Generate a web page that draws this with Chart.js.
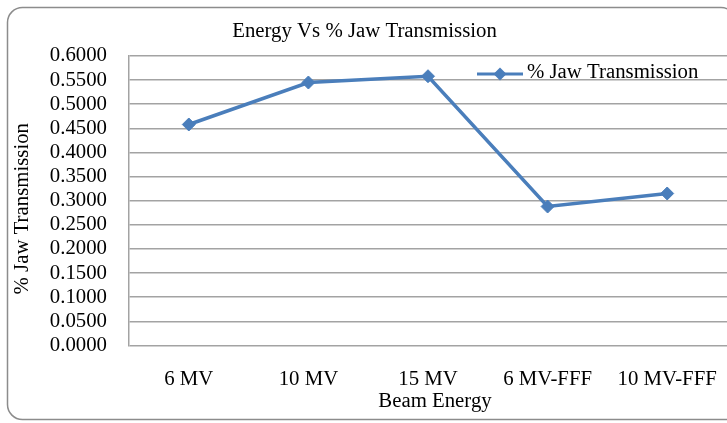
<!DOCTYPE html>
<html>
<head>
<meta charset="utf-8">
<script src="https://cdn.jsdelivr.net/npm/chart.js@4/dist/chart.umd.min.js"></script>
<style>
  html, body { margin: 0; padding: 0; background: #fff; overflow: hidden; }
  #wrap { position: relative; width: 727px; height: 423px; overflow: hidden; }
  canvas { display: block; }
</style>
</head>
<body>
<div id="wrap"><canvas id="c" width="727" height="423" style="width:727px;height:423px"></canvas></div>
<script>
// Beam energies and measured jaw transmission (%)
const categories = ['6 MV', '10 MV', '15 MV', '6 MV-FFF', '10 MV-FFF'];
const jawTransmission = [0.458, 0.545, 0.558, 0.288, 0.315];
const seriesLabel = '% Jaw Transmission';
const chartTitle = 'Energy Vs % Jaw Transmission';
const xAxisTitle = 'Beam Energy';
const yAxisTitle = '% Jaw Transmission';
const yMin = 0, yMax = 0.6, yStep = 0.05;

const FONT = 'Liberation Serif, Times New Roman, serif';
const FSIZE = 20.8;
const BLUE = '#4A7EBB';
const GRID = '#a3a3a3';

// Rounded outer frame: bottom, left and top edges; the right edge lies past the canvas
const framePlugin = {
  id: 'frame',
  afterDraw(chart) {
    const ctx = chart.ctx;
    const L = 7.5, T = 7.5, B = 419.5, R = 736, r = 15;
    ctx.save();
    ctx.strokeStyle = '#8c8c8c';
    ctx.lineWidth = 1.5;
    ctx.beginPath();
    ctx.moveTo(R + 10, B);
    ctx.lineTo(L + r, B);
    ctx.arcTo(L, B, L, B - r, r);
    ctx.lineTo(L, T + r);
    ctx.arcTo(L, T, L + r, T, r);
    ctx.lineTo(R - r, T);
    ctx.arcTo(R, T, R, T + r, r);
    ctx.stroke();
    ctx.restore();
  }
};

// Axis titles, placed like the spreadsheet layout
const axisTitlePlugin = {
  id: 'axisTitles',
  afterDraw(chart) {
    const ctx = chart.ctx;
    const a = chart.chartArea;
    ctx.save();
    ctx.fillStyle = '#000';
    ctx.font = FSIZE + 'px ' + FONT;
    ctx.textAlign = 'center';
    ctx.textBaseline = 'middle';
    ctx.fillText(xAxisTitle, (a.left + a.right) / 2 + 7, 402);
    ctx.translate(23, (a.top + a.bottom) / 2 + 8);
    ctx.rotate(-Math.PI / 2);
    ctx.fillText(yAxisTitle, 0, 0);
    ctx.restore();
  }
};

// Legend entry drawn inside the plot area: line + diamond + label
const insideLegendPlugin = {
  id: 'insideLegend',
  afterDraw(chart) {
    const ctx = chart.ctx;
    const ds = chart.data.datasets[0];
    const y = 74;
    ctx.save();
    ctx.strokeStyle = ds.borderColor;
    ctx.lineWidth = 3;
    ctx.beginPath();
    ctx.moveTo(477, y);
    ctx.lineTo(523, y);
    ctx.stroke();
    ctx.fillStyle = ds.pointBackgroundColor;
    ctx.beginPath();
    ctx.moveTo(500, y - 6.5);
    ctx.lineTo(506.5, y);
    ctx.lineTo(500, y + 6.5);
    ctx.lineTo(493.5, y);
    ctx.closePath();
    ctx.fill();
    ctx.fillStyle = '#000';
    ctx.font = FSIZE + 'px ' + FONT;
    ctx.textAlign = 'left';
    ctx.textBaseline = 'middle';
    ctx.fillText(ds.label, 527, y - 1.5);
    ctx.restore();
  }
};

new Chart(document.getElementById('c'), {
  type: 'line',
  data: {
    labels: categories,
    datasets: [{
      label: seriesLabel,
      data: jawTransmission,
      borderColor: BLUE,
      backgroundColor: BLUE,
      pointBackgroundColor: BLUE,
      pointBorderColor: BLUE,
      borderWidth: 3.5,
      pointStyle: 'rectRot',
      pointRadius: 6.5,
      pointBorderWidth: 1,
      tension: 0,
      fill: false,
      clip: false
    }]
  },
  options: {
    responsive: false,
    animation: false,
    devicePixelRatio: 1,
    layout: { autoPadding: false, padding: { left: 0, top: 0, bottom: 0, right: -2 } },
    plugins: {
      legend: { display: false },
      tooltip: { enabled: false },
      title: {
        display: true,
        text: chartTitle,
        color: '#000',
        font: { family: FONT, size: FSIZE, weight: 'normal', lineHeight: 1.2 },
        padding: { top: 19.5, bottom: 11.5 }
      }
    },
    scales: {
      x: {
        offset: true,
        grid: { display: false, drawTicks: false },
        border: { display: false },
        ticks: {
          color: '#000',
          padding: 21.5,
          maxRotation: 0,
          autoSkip: false,
          font: { family: FONT, size: FSIZE, lineHeight: 1.2 }
        },
        afterFit(scale) {
          scale.height = 77.5;
          scale.paddingLeft = 0;
          scale.paddingRight = 0;
        }
      },
      y: {
        min: yMin,
        max: yMax,
        grid: { color: GRID, lineWidth: 1.5, drawTicks: false },
        border: { display: true, color: GRID, width: 1.5 },
        ticks: {
          stepSize: yStep,
          autoSkip: false,
          color: '#000',
          padding: 22,
          font: { family: FONT, size: FSIZE, lineHeight: 1.2 },
          callback: v => Number(v).toFixed(4)
        },
        afterFit(scale) {
          scale.width = 129;
          scale.paddingTop = 0;
          scale.paddingBottom = 0;
        }
      }
    }
  },
  plugins: [framePlugin, axisTitlePlugin, insideLegendPlugin]
});
</script>
</body>
</html>
